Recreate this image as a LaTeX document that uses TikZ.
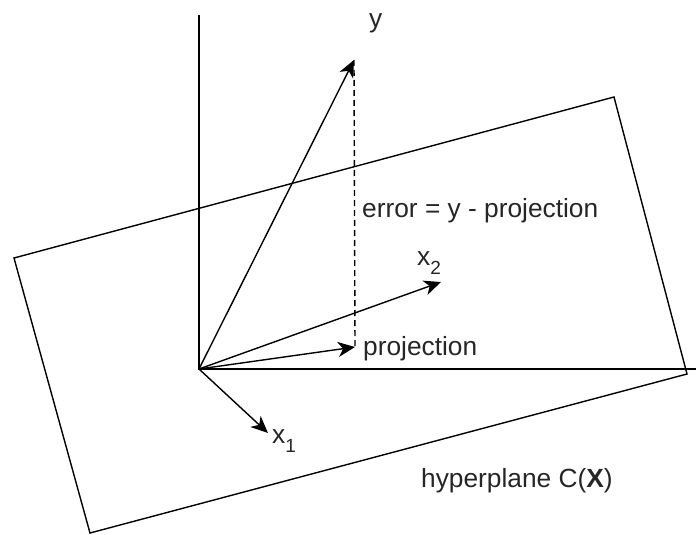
\documentclass[tikz,border=0pt]{standalone}
\usepackage{fontspec}
\setmainfont{Liberation Sans}
\usetikzlibrary{arrows.meta}
\begin{document}
\begin{tikzpicture}[x=1pt,y=-1pt,
  edge/.style={line width=1.4pt,black},
  vec/.style={line width=1.4pt,black,-{Stealth[length=17pt,width=15pt,inset=5pt]}},
  lbl/.style={inner sep=0pt,text=black!85,font=\fontsize{26.3}{30}\selectfont}]
\useasboundingbox (0,0) rectangle (696,535);
% hyperplane
\coordinate (pL) at (14,258);
\coordinate (pT) at (614,97);
\coordinate (pR) at (687,374);
\coordinate (pB) at (90,533);
\draw[edge,line join=miter] (pL) -- (pT) -- (pR) -- (pB) -- cycle;
% axes
\coordinate (O) at (199,369);
\coordinate (ytop) at (199,15);
\coordinate (xend) at (696,369);
\draw[edge,line width=1.8pt] (ytop) -- (O) -- (xend);
% vectors
\coordinate (Y) at (354,60);
\coordinate (P) at (355,347);
\coordinate (X2) at (441,282);
\coordinate (X1) at (268,433);
\draw[edge,dashed,dash pattern=on 6pt off 4pt] (Y) -- (P);
\draw[vec] (O) -- (Y);
\draw[vec] (O) -- (X2);
\draw[vec] (O) -- (P);
\draw[vec] (O) -- (X1);
% labels
\node[lbl,anchor=base west] (ly) at (369,28) {y};
\node[lbl,anchor=base west] (lerr) at (362,217) {error = y - projection};
\node[lbl,anchor=base west] (lx2) at (417,265) {x\raisebox{-0.35em}{\fontsize{19}{19}\selectfont 2}};
\node[lbl,anchor=base west] (lproj) at (363,355) {projection};
\node[lbl,anchor=base west] (lx1) at (272,443) {x\raisebox{-0.35em}{\fontsize{19}{19}\selectfont 1}};
\node[lbl,anchor=base west] (lhyp) at (421,487) {hyperplane C(\textbf{X})};
\end{tikzpicture}
\end{document}
